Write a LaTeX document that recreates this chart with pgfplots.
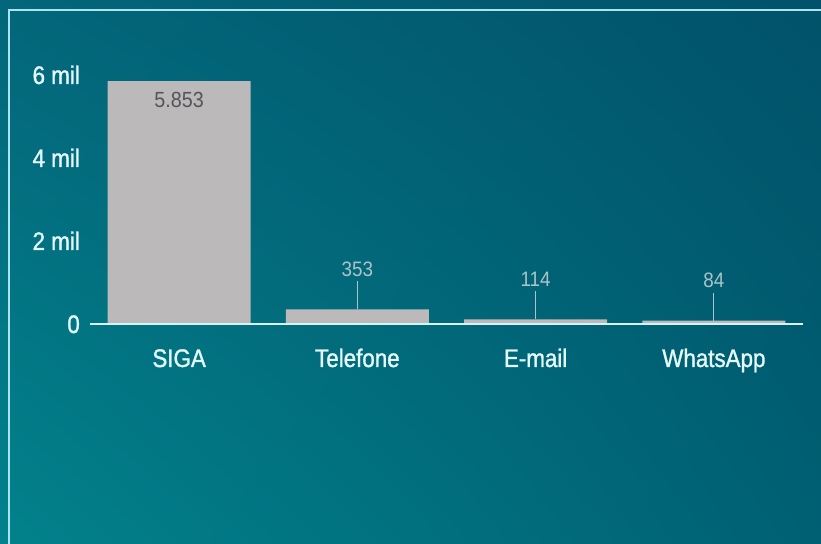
\documentclass[border=0pt]{standalone}
\usepackage{fontspec}
\setmainfont{Liberation Sans}[FakeStretch=0.9]
\newfontfamily\tickfont{Liberation Sans}[FakeStretch=0.88, FakeBold=1.2]
\usepackage{pgfplots}
\pgfplotsset{compat=1.18}
\usetikzlibrary{shadings}

\definecolor{bgTL}{RGB}{3,102,122}
\definecolor{bgTR}{RGB}{1,82,106}
\definecolor{bgBL}{RGB}{2,130,140}
\definecolor{bgBR}{RGB}{0,96,115}
\definecolor{frame}{RGB}{170,228,236}
\definecolor{axline}{RGB}{214,244,248}
\definecolor{ticktext}{RGB}{228,250,252}
\definecolor{barc}{RGB}{187,185,186}
\definecolor{inlbl}{RGB}{85,85,90}
\definecolor{outlbl}{RGB}{172,196,200}

\newcommand\outfont{\fontsize{21}{24}\selectfont}

\begin{document}
\begin{tikzpicture}
  \clip (0bp,0bp) rectangle (821bp,544bp);
  \shade[upper left=bgTL, upper right=bgTR, lower left=bgBL, lower right=bgBR]
    (0bp,0bp) rectangle (821bp,544bp);
  \draw[frame, line width=2bp] (9bp,-2bp) -- (9bp,534bp) -- (823bp,534bp);

  \begin{axis}[
    at={(90bp,220bp)}, anchor=south west,
    width=713bp, height=249bp, scale only axis,
    xmin=-0.5, xmax=3.5, ymin=0, ymax=6000,
    axis line style={draw=none},
    tick style={draw=none},
    major tick length=0pt,
    xtick={0,1,2,3},
    xticklabels={SIGA,Telefone,E-mail,WhatsApp},
    ytick={0,2000,4000,6000},
    yticklabels={0,2 mil,4 mil,6 mil},
    /pgf/number format/assume math mode=true,
    xticklabel style={font=\tickfont\fontsize{25.5}{28}\selectfont, text=ticktext,
      anchor=base, inner sep=0pt, yshift=-43bp},
    yticklabel style={font=\tickfont\fontsize{25.5}{28}\selectfont, text=ticktext,
      anchor=base east, inner sep=0pt, xshift=-10bp, yshift=-9bp},
    clip=false,
  ]
  \addplot[ybar, bar width=143bp, fill=barc, draw=none] coordinates {
    (0,5853) (1,353) (2,114) (3,84)
  };
  \draw[axline, line width=2bp] (axis cs:-0.5,0) -- (axis cs:3.5,0);

  \node[anchor=base, text=inlbl, font=\fontsize{22}{26}\selectfont, yshift=-26bp]
    at (axis cs:0,5853) {5.853};
  \draw[outlbl, line width=1.2bp] (axis cs:1,353) -- ++(0bp,28bp);
  \node[anchor=base, text=outlbl, font=\outfont, yshift=33bp] at (axis cs:1,353) {353};
  \draw[outlbl, line width=1.2bp] (axis cs:2,114) -- ++(0bp,28bp);
  \node[anchor=base, text=outlbl, font=\outfont, yshift=33bp] at (axis cs:2,114) {114};
  \draw[outlbl, line width=1.2bp] (axis cs:3,84) -- ++(0bp,28bp);
  \node[anchor=base, text=outlbl, font=\outfont, yshift=33bp] at (axis cs:3,84) {84};
  \end{axis}
\end{tikzpicture}
\end{document}
